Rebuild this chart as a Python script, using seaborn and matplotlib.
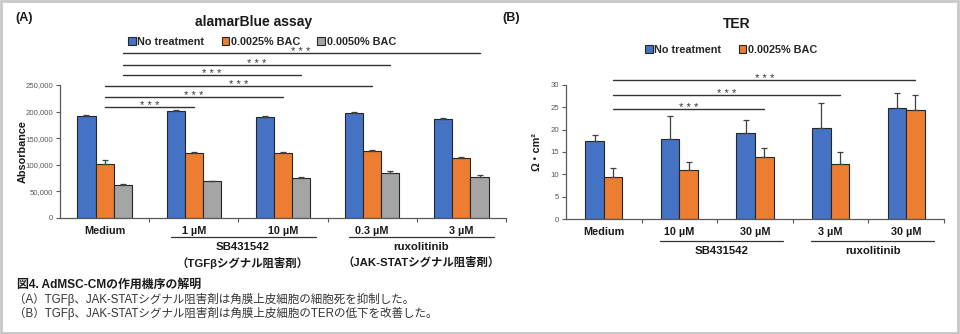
import numpy as np
import pandas as pd
import matplotlib
matplotlib.use("Agg")
import matplotlib.pyplot as plt
import seaborn as sns
from matplotlib.patches import Rectangle

# ---------------- data ----------------
a_categories = ["Medium", "1 µM", "10 µM", "0.3 µM", "3 µM"]
a_series = ["No treatment", "0.0025% BAC", "0.0050% BAC"]
a_no_treatment = [191000, 201000, 190000, 198000, 186000]
a_bac_0025 = [101000, 122000, 122000, 126000, 112000]
a_bac_0050 = [62000, 70000, 76000, 85000, 78000]
a_err_no = [3500, 2000, 1000, 2000, 2000]
a_err_0025 = [8500, 2000, 3000, 2000, 3000]
a_err_0050 = [1500, 0, 1000, 4000, 3000]
a_yticks = [0, 50000, 100000, 150000, 200000, 250000]
a_groups = [("SB431542\n（TGFβシグナル阻害剤）", 1, 2),
            ("ruxolitinib\n（JAK-STATシグナル阻害剤）", 3, 4)]
# (series index, from category, to category, bracket height)
a_sig = [(2, 0, 4, 310000), (2, 0, 3, 288000), (2, 0, 2, 269000),
         (1, 0, 3, 248000), (1, 0, 2, 227000), (1, 0, 1, 209000)]

b_keys = ["Medium", "SB 10", "SB 30", "Rux 3", "Rux 30"]
b_labels = ["Medium", "10 µM", "30 µM", "3 µM", "30 µM"]
b_series = ["No treatment", "0.0025% BAC"]
b_no_treatment = [17.5, 18.0, 19.3, 20.3, 24.8]
b_bac_0025 = [9.5, 10.9, 13.9, 12.3, 24.4]
b_err_no = [1.2, 5.0, 2.8, 5.7, 3.5]
b_err_0025 = [1.9, 1.9, 2.1, 2.8, 3.3]
b_yticks = [0, 5, 10, 15, 20, 25, 30]
b_groups = [("SB431542", 1, 2), ("ruxolitinib", 3, 4)]
b_sig = [(1, 0, 4, 31.1), (1, 0, 3, 27.8), (1, 0, 2, 24.6)]

colors = ["#4472C4", "#ED7D31", "#A5A5A5"]

# ---------------- style ----------------
sns.set_theme(style="white")
plt.rcParams["font.family"] = ["Liberation Sans", "Noto Sans CJK JP", "DejaVu Sans"]
plt.rcParams["axes.unicode_minus"] = False

W, H = 960, 334
fig = plt.figure(figsize=(9.6, 3.34), dpi=100)


def fx(px):
    return px / W


def fy(py):
    return 1 - py / H


AX_COL = "#595959"
TXT = "#1a1a1a"


def draw_panel(ax, cats, labels, series, vals, errs, width, ylim, yticks, ytickfmt,
               groups, sig, ylabel, ylabel_x, underline_y, group_y, label_pad, group_dx):
    rows = []
    for s, v in zip(series, vals):
        for c, y in zip(cats, v):
            rows.append({"cat": c, "series": s, "val": y})
    df = pd.DataFrame(rows)
    sns.barplot(data=df, x="cat", y="val", hue="series", order=cats,
                hue_order=series, palette=colors[:len(series)], width=width,
                edgecolor="#262626", linewidth=0.8, errorbar=None, ax=ax,
                legend=False, saturation=1)
    # error bars (upper only)
    for cont, e in zip(ax.containers, errs):
        xs = [b.get_x() + b.get_width() / 2 for b in cont]
        ys = [b.get_height() for b in cont]
        ax.errorbar(xs, ys, yerr=[np.zeros(len(e)), e], fmt="none",
                    ecolor="#404040", elinewidth=0.9, capsize=2.2, capthick=0.9)
    ax.set_xlim(-0.5, len(cats) - 0.5)
    ax.set_ylim(*ylim)
    ax.set_yticks(yticks)
    ax.set_yticklabels([ytickfmt(t) for t in yticks], fontsize=5.6, color="#595959")
    ax.set_xticks(range(len(cats)))
    ax.set_xticklabels(labels, fontsize=7.8, fontweight="bold", color=TXT)
    ax.tick_params(axis="x", which="major", length=0, pad=label_pad)
    ax.set_xticks(np.arange(0.5, len(cats), 1.0), minor=True)
    ax.tick_params(axis="x", which="minor", length=3, width=0.8, color=AX_COL,
                   direction="out", bottom=True)
    ax.tick_params(axis="y", length=3, width=0.8, color=AX_COL, direction="out",
                   left=True, pad=2)
    ax.set_xlabel("")
    ax.set_ylabel(ylabel, fontsize=7.8, fontweight="bold", color=TXT)
    ax.yaxis.set_label_coords(ylabel_x, 0.5)
    for sp in ["top", "right"]:
        ax.spines[sp].set_visible(False)
    for sp in ["left", "bottom"]:
        ax.spines[sp].set_color(AX_COL)
        ax.spines[sp].set_linewidth(0.9)
    # significance brackets
    for hi, c0, c1, h in sig:
        b0 = ax.containers[hi][c0]
        b1 = ax.containers[hi][c1]
        x0 = b0.get_x() + b0.get_width() / 2
        x1 = b1.get_x() + b1.get_width() / 2
        ax.plot([x0, x1], [h, h], color="#333333", lw=1.0, clip_on=False)
        ax.annotate("* * *", xy=((x0 + x1) / 2, h), xytext=(0, -1.5),
                    textcoords="offset points", ha="center", va="baseline",
                    fontsize=8, color="#333333", annotation_clip=False)
    # group underline + labels
    tr = ax.get_xaxis_transform()
    for text, c0, c1 in groups:
        ax.plot([c0 - 0.26, c1 + 0.37], [underline_y, underline_y], color="#333333",
                lw=0.9, transform=tr, clip_on=False)
        ax.text((c0 + c1) / 2 + group_dx, group_y, text, transform=tr, ha="center",
                va="top", fontsize=8.2, fontweight="bold", color=TXT,
                linespacing=1.5)


def fmt_thousands(t):
    return f"{int(t):,}"


def fmt_int(t):
    return f"{int(t)}"


# ---------------- panel A ----------------
axA = fig.add_axes([fx(60), fy(218), fx(506 - 60), (218 - 85) / H])
draw_panel(axA, a_categories, a_categories, a_series,
           [a_no_treatment, a_bac_0025, a_bac_0050],
           [a_err_no, a_err_0025, a_err_0050],
           0.61, (0, 250000), a_yticks, fmt_thousands,
           a_groups, a_sig, "Absorbance", -0.072, -0.143, -0.18, 6, 0.05)

# ---------------- panel B ----------------
axB = fig.add_axes([fx(566), fy(219), fx(944 - 566), (219 - 85) / H])
draw_panel(axB, b_keys, b_labels, b_series,
           [b_no_treatment, b_bac_0025],
           [b_err_no, b_err_0025],
           0.49, (0, 30), b_yticks, fmt_int,
           b_groups, b_sig, "Ω・cm²", -0.066, -0.164, -0.2, 6, 0.06)

# ---------------- legends ----------------
def legend(series, cx, cy):
    handles = [Rectangle((0, 0), 1, 1, facecolor=c, edgecolor="#262626", lw=0.8)
               for c in colors[:len(series)]]
    fig.legend(handles, series, loc="center", bbox_to_anchor=(fx(cx), fy(cy)),
               ncol=len(series), frameon=False, handlelength=0.7, handleheight=0.7,
               handletextpad=0.15, columnspacing=1.6,
               prop={"size": 7.8, "weight": "bold"})


legend(a_series, 262, 42)
legend(b_series, 731, 50)

# ---------------- titles ----------------
fig.text(fx(254), fy(22), "alamarBlue assay", ha="center", va="center",
         fontsize=10, fontweight="bold", color=TXT)
fig.text(fx(737), fy(24), "TER", ha="center", va="center",
         fontsize=10, fontweight="bold", color=TXT)
fig.text(fx(15), fy(18), "(A)", ha="left", va="center", fontsize=9,
         fontweight="bold", color=TXT)
fig.text(fx(502), fy(18), "(B)", ha="left", va="center", fontsize=9,
         fontweight="bold", color=TXT)

# ---------------- caption ----------------
fig.text(fx(17), fy(285), "図4. AdMSC-CMの作用機序の解明", ha="left", va="center",
         fontsize=8.6, fontweight="bold", color=TXT)
fig.text(fx(14), fy(299.5), "（A）TGFβ、JAK-STATシグナル阻害剤は角膜上皮細胞の細胞死を抑制した。",
         ha="left", va="center", fontsize=8.3, color="#333333")
fig.text(fx(14), fy(313.5), "（B）TGFβ、JAK-STATシグナル阻害剤は角膜上皮細胞のTERの低下を改善した。",
         ha="left", va="center", fontsize=8.3, color="#333333")

# ---------------- frame ----------------
fig.patches.append(Rectangle((0.001, 0.003), 0.997, 0.994, transform=fig.transFigure,
                             fill=False, edgecolor="#c8c8c8", lw=2))

fig.savefig("out.png", dpi=100)
